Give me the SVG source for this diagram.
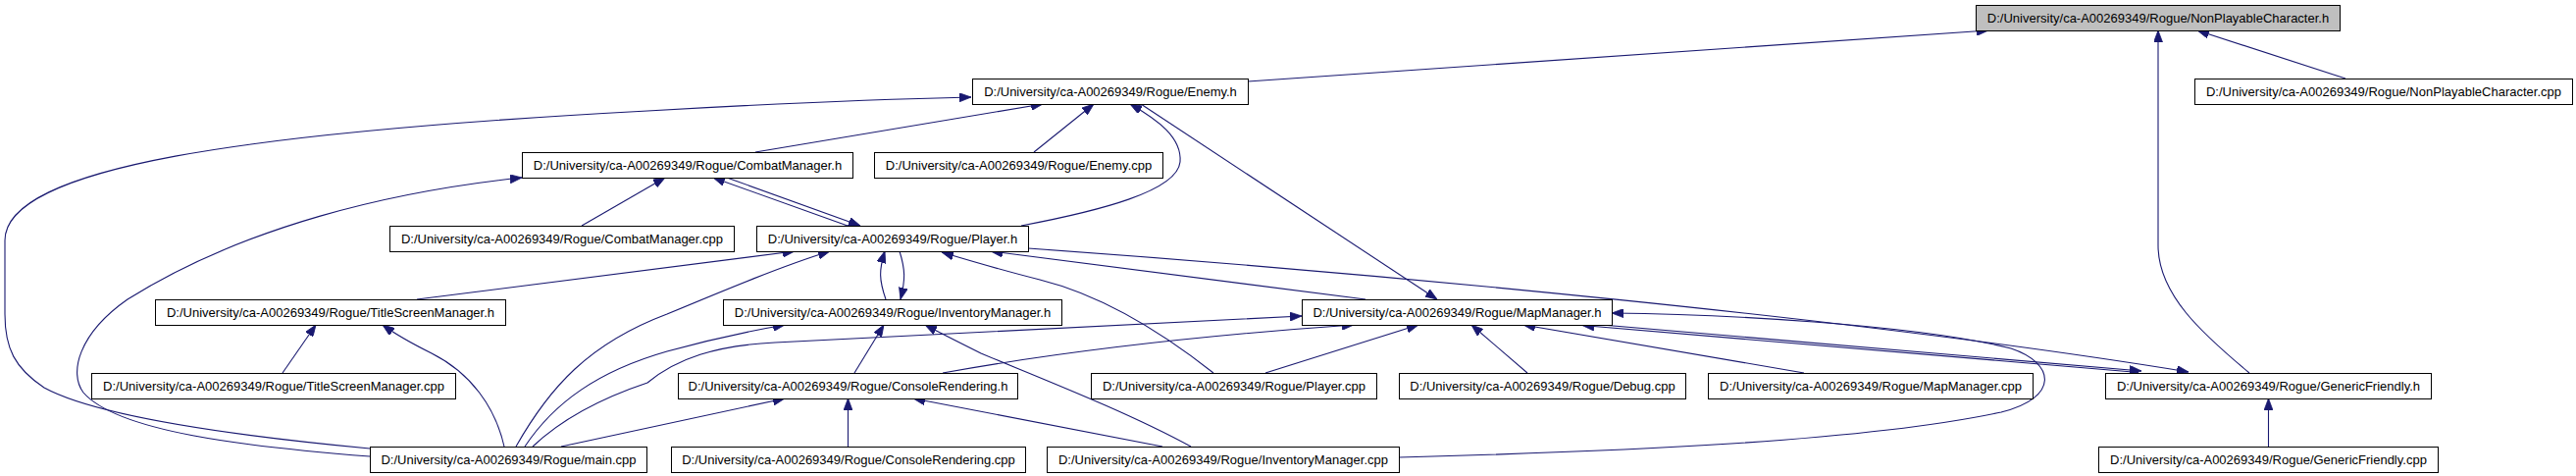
<svg xmlns="http://www.w3.org/2000/svg" width="2626" height="485" viewBox="0 0 2626 485">
<defs>
<style>
.node rect{fill:#ffffff;stroke:#000000;stroke-width:1}
.node.root rect{fill:#bfbfbf}
.node text{font-family:"Liberation Sans",Arial,sans-serif;font-size:13px;fill:#000000;text-anchor:middle}
.edge{fill:none;stroke:#191970;stroke-width:1.1;marker-end:url(#arr)}
</style>
<marker id="arr" markerUnits="userSpaceOnUse" viewBox="0 0 12 9" markerWidth="12" markerHeight="9" refX="12" refY="4.5" orient="auto">
<path d="M0,0 L12,4.5 L0,9 Z" fill="#191970" stroke="#191970" stroke-width="0.8"/>
</marker>
</defs>
<rect x="0" y="0" width="2626" height="485" fill="#ffffff"/>
<g id="edges">
<path class="edge" d="M1272,83 L2027,31"/>
<path class="edge" d="M2391,80 L2240,31"/>
<path class="edge" d="M2293,380 C2245,340 2200,300 2200,250 L2200,31"/>
<path class="edge" d="M377,457 C250,445 100,425 45,395 C15,375 5,355 5,320 L5,245 C5,170 250,135 660,113 C780,106 900,101 990,99"/>
<path class="edge" d="M770,155 L1063,106"/>
<path class="edge" d="M1054,155 L1115,106"/>
<path class="edge" d="M1041,230 C1120,215 1200,195 1203,165 C1205,140 1180,122 1152,106"/>
<path class="edge" d="M1163,106 L1465,305"/>
<path class="edge" d="M593,230 L678,181"/>
<path class="edge" d="M864,230 L727,181"/>
<path class="edge" d="M741,181 L877,230"/>
<path class="edge" d="M425,305 L810,256"/>
<path class="edge" d="M526,455 C560,395 600,350 680,320 C740,295 800,270 846,256"/>
<path class="edge" d="M903,305 C896,285 896,275 902,256"/>
<path class="edge" d="M917,256 C923,275 923,285 918,305"/>
<path class="edge" d="M1237,380 C1180,335 1120,300 1060,285 C1020,275 990,266 960,257"/>
<path class="edge" d="M1392,305 L1010,256"/>
<path class="edge" d="M1048,253 C1400,278 1900,325 2231,379"/>
<path class="edge" d="M1426,466 C1650,460 1900,450 2040,420 C2100,405 2095,370 2050,355 C1950,330 1750,320 1643,319"/>
<path class="edge" d="M1633,331 L2183,378"/>
<path class="edge" d="M2180,379.5 L1613,331.5"/>
<path class="edge" d="M514,455 C505,415 480,380 440,360 C420,350 405,342 390,331"/>
<path class="edge" d="M535,455 C565,410 610,378 680,358 C720,347 760,338 800,331"/>
<path class="edge" d="M543,455 C580,420 630,400 660,390 C690,365 730,352 790,349 L1327,322"/>
<path class="edge" d="M572,455 L800,406"/>
<path class="edge" d="M377,465 C250,455 120,440 85,400 C70,380 80,340 130,305 C250,230 400,195 532,181"/>
<path class="edge" d="M871,380 L901,331"/>
<path class="edge" d="M1214,455 C1150,420 1060,385 1000,360 C980,350 960,340 943,331"/>
<path class="edge" d="M864.5,455 L864.5,406"/>
<path class="edge" d="M1185,455 L931,406"/>
<path class="edge" d="M961,380 C1100,355 1250,340 1380,331"/>
<path class="edge" d="M1290,380 L1446,331"/>
<path class="edge" d="M1557,380 L1500,331"/>
<path class="edge" d="M1839,380 L1553,331"/>
<path class="edge" d="M288,380 L322,331"/>
<path class="edge" d="M2312.5,455 L2312.5,406"/>
</g>
<g id="node1" class="node root"><rect x="2014.5" y="5.5" width="371" height="26"/><text x="2200" y="22.5">D:/University/ca-A00269349/Rogue/NonPlayableCharacter.h</text></g>
<g id="node2" class="node"><rect x="991.5" y="80.5" width="281" height="26"/><text x="1132" y="97.5">D:/University/ca-A00269349/Rogue/Enemy.h</text></g>
<g id="node3" class="node"><rect x="2237.5" y="80.5" width="385" height="26"/><text x="2430" y="97.5">D:/University/ca-A00269349/Rogue/NonPlayableCharacter.cpp</text></g>
<g id="node4" class="node"><rect x="532.5" y="155.5" width="337" height="26"/><text x="701" y="172.5">D:/University/ca-A00269349/Rogue/CombatManager.h</text></g>
<g id="node5" class="node"><rect x="891.5" y="155.5" width="294" height="26"/><text x="1038.5" y="172.5">D:/University/ca-A00269349/Rogue/Enemy.cpp</text></g>
<g id="node6" class="node"><rect x="397.5" y="230.5" width="351" height="26"/><text x="573" y="247.5">D:/University/ca-A00269349/Rogue/CombatManager.cpp</text></g>
<g id="node7" class="node"><rect x="771.5" y="230.5" width="277" height="26"/><text x="910" y="247.5">D:/University/ca-A00269349/Rogue/Player.h</text></g>
<g id="node8" class="node"><rect x="158.5" y="305.5" width="357" height="26"/><text x="337" y="322.5">D:/University/ca-A00269349/Rogue/TitleScreenManager.h</text></g>
<g id="node9" class="node"><rect x="737.5" y="305.5" width="345" height="26"/><text x="910" y="322.5">D:/University/ca-A00269349/Rogue/InventoryManager.h</text></g>
<g id="node10" class="node"><rect x="1327.5" y="305.5" width="316" height="26"/><text x="1485.5" y="322.5">D:/University/ca-A00269349/Rogue/MapManager.h</text></g>
<g id="node11" class="node"><rect x="93.5" y="380.5" width="371" height="26"/><text x="279" y="397.5">D:/University/ca-A00269349/Rogue/TitleScreenManager.cpp</text></g>
<g id="node12" class="node"><rect x="691.5" y="380.5" width="346" height="26"/><text x="864.5" y="397.5">D:/University/ca-A00269349/Rogue/ConsoleRendering.h</text></g>
<g id="node13" class="node"><rect x="1112.5" y="380.5" width="291" height="26"/><text x="1258" y="397.5">D:/University/ca-A00269349/Rogue/Player.cpp</text></g>
<g id="node14" class="node"><rect x="1426.5" y="380.5" width="292" height="26"/><text x="1572.5" y="397.5">D:/University/ca-A00269349/Rogue/Debug.cpp</text></g>
<g id="node15" class="node"><rect x="1741.5" y="380.5" width="331" height="26"/><text x="1907" y="397.5">D:/University/ca-A00269349/Rogue/MapManager.cpp</text></g>
<g id="node16" class="node"><rect x="2146.5" y="380.5" width="332" height="26"/><text x="2312.5" y="397.5">D:/University/ca-A00269349/Rogue/GenericFriendly.h</text></g>
<g id="node17" class="node"><rect x="377.5" y="455.5" width="282" height="26"/><text x="518.5" y="472.5">D:/University/ca-A00269349/Rogue/main.cpp</text></g>
<g id="node18" class="node"><rect x="684.5" y="455.5" width="361" height="26"/><text x="865" y="472.5">D:/University/ca-A00269349/Rogue/ConsoleRendering.cpp</text></g>
<g id="node19" class="node"><rect x="1067.5" y="455.5" width="359" height="26"/><text x="1247" y="472.5">D:/University/ca-A00269349/Rogue/InventoryManager.cpp</text></g>
<g id="node20" class="node"><rect x="2139.5" y="455.5" width="346" height="26"/><text x="2312.5" y="472.5">D:/University/ca-A00269349/Rogue/GenericFriendly.cpp</text></g>
</svg>
